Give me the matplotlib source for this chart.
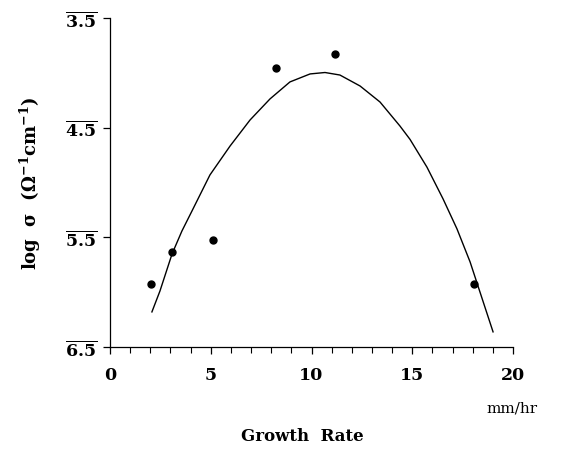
import matplotlib
matplotlib.use("Agg")
import matplotlib.pyplot as plt
from matplotlib.ticker import MultipleLocator

plt.rcParams['font.family'] = ['DejaVu Serif']
plt.rcParams['mathtext.fontset'] = 'custom'
plt.rcParams['mathtext.rm'] = 'DejaVu Serif:bold'
plt.rcParams['mathtext.bf'] = 'DejaVu Serif:bold'
plt.rcParams['mathtext.it'] = 'DejaVu Serif:bold'

# measured points: growth rate (mm/hr) vs log conductivity
rate_pts = [2.03, 3.08, 5.09, 8.23, 11.17, 18.05]
logsig_pts = [-4.925, -4.630, -4.520, -2.957, -2.825, -4.930]

# fitted curve
rate_curve = [2.08, 2.48, 3.08, 3.57, 4.07, 4.96, 5.96, 6.95, 7.94, 8.93, 9.93,
              10.67, 11.41, 12.41, 13.40, 14.39, 14.89, 15.73, 16.53, 17.22,
              17.87, 19.01]
logsig_curve = [-5.180, -4.989, -4.651, -4.442, -4.259, -3.931, -3.667, -3.430,
                -3.238, -3.083, -3.010, -2.997, -3.020, -3.120, -3.266, -3.485,
                -3.607, -3.860, -4.150, -4.423, -4.724, -5.362]

y_ticks = [-2.5, -3.5, -4.5, -5.5]
y_ticklabels = [r'$\overline{\mathbf{3.5}}$', r'$\overline{\mathbf{4.5}}$',
                r'$\overline{\mathbf{5.5}}$', r'$\overline{\mathbf{6.5}}$']
x_ticks = [0, 5, 10, 15, 20]

fig = plt.figure(figsize=(5.63, 4.56), dpi=100)
ax = fig.add_axes([110/563, 1-348/456, (513-110)/563, (348-19)/456])

ax.plot(rate_curve, logsig_curve, color='black', lw=1.0, solid_joinstyle='round')
ax.plot(rate_pts, logsig_pts, 'o', color='black', ms=5)

ax.set_xlim(0, 20)
ax.set_ylim(-5.5, -2.5)
ax.set_xticks(x_ticks)
ax.set_xticklabels([str(v) for v in x_ticks], fontsize=12.5, fontweight='bold')
ax.xaxis.set_minor_locator(MultipleLocator(1))
ax.set_yticks(y_ticks)
ax.set_yticklabels(y_ticklabels, fontsize=12.5)

for s in ['top', 'right']:
    ax.spines[s].set_visible(False)
for s in ['left', 'bottom']:
    ax.spines[s].set_linewidth(0.9)
ax.tick_params(axis='x', which='major', direction='out', length=5, width=0.9, pad=9)
ax.tick_params(axis='x', which='minor', direction='out', length=4.5, width=0.8)
ax.tick_params(axis='y', which='major', direction='out', length=5, width=0.9, pad=4)

ax.set_ylabel(r'log  $\sigma$  ($\Omega^{-1}$cm$^{-1}$)', fontsize=13,
              fontweight='bold', labelpad=16)
fig.text(512/563, 1-409/456, 'mm/hr', fontsize=11, ha='center', va='center')
fig.text(302/563, 1-437/456, 'Growth  Rate', fontsize=12, fontweight='bold',
         ha='center', va='center')

fig.savefig('out.png', dpi=100)
